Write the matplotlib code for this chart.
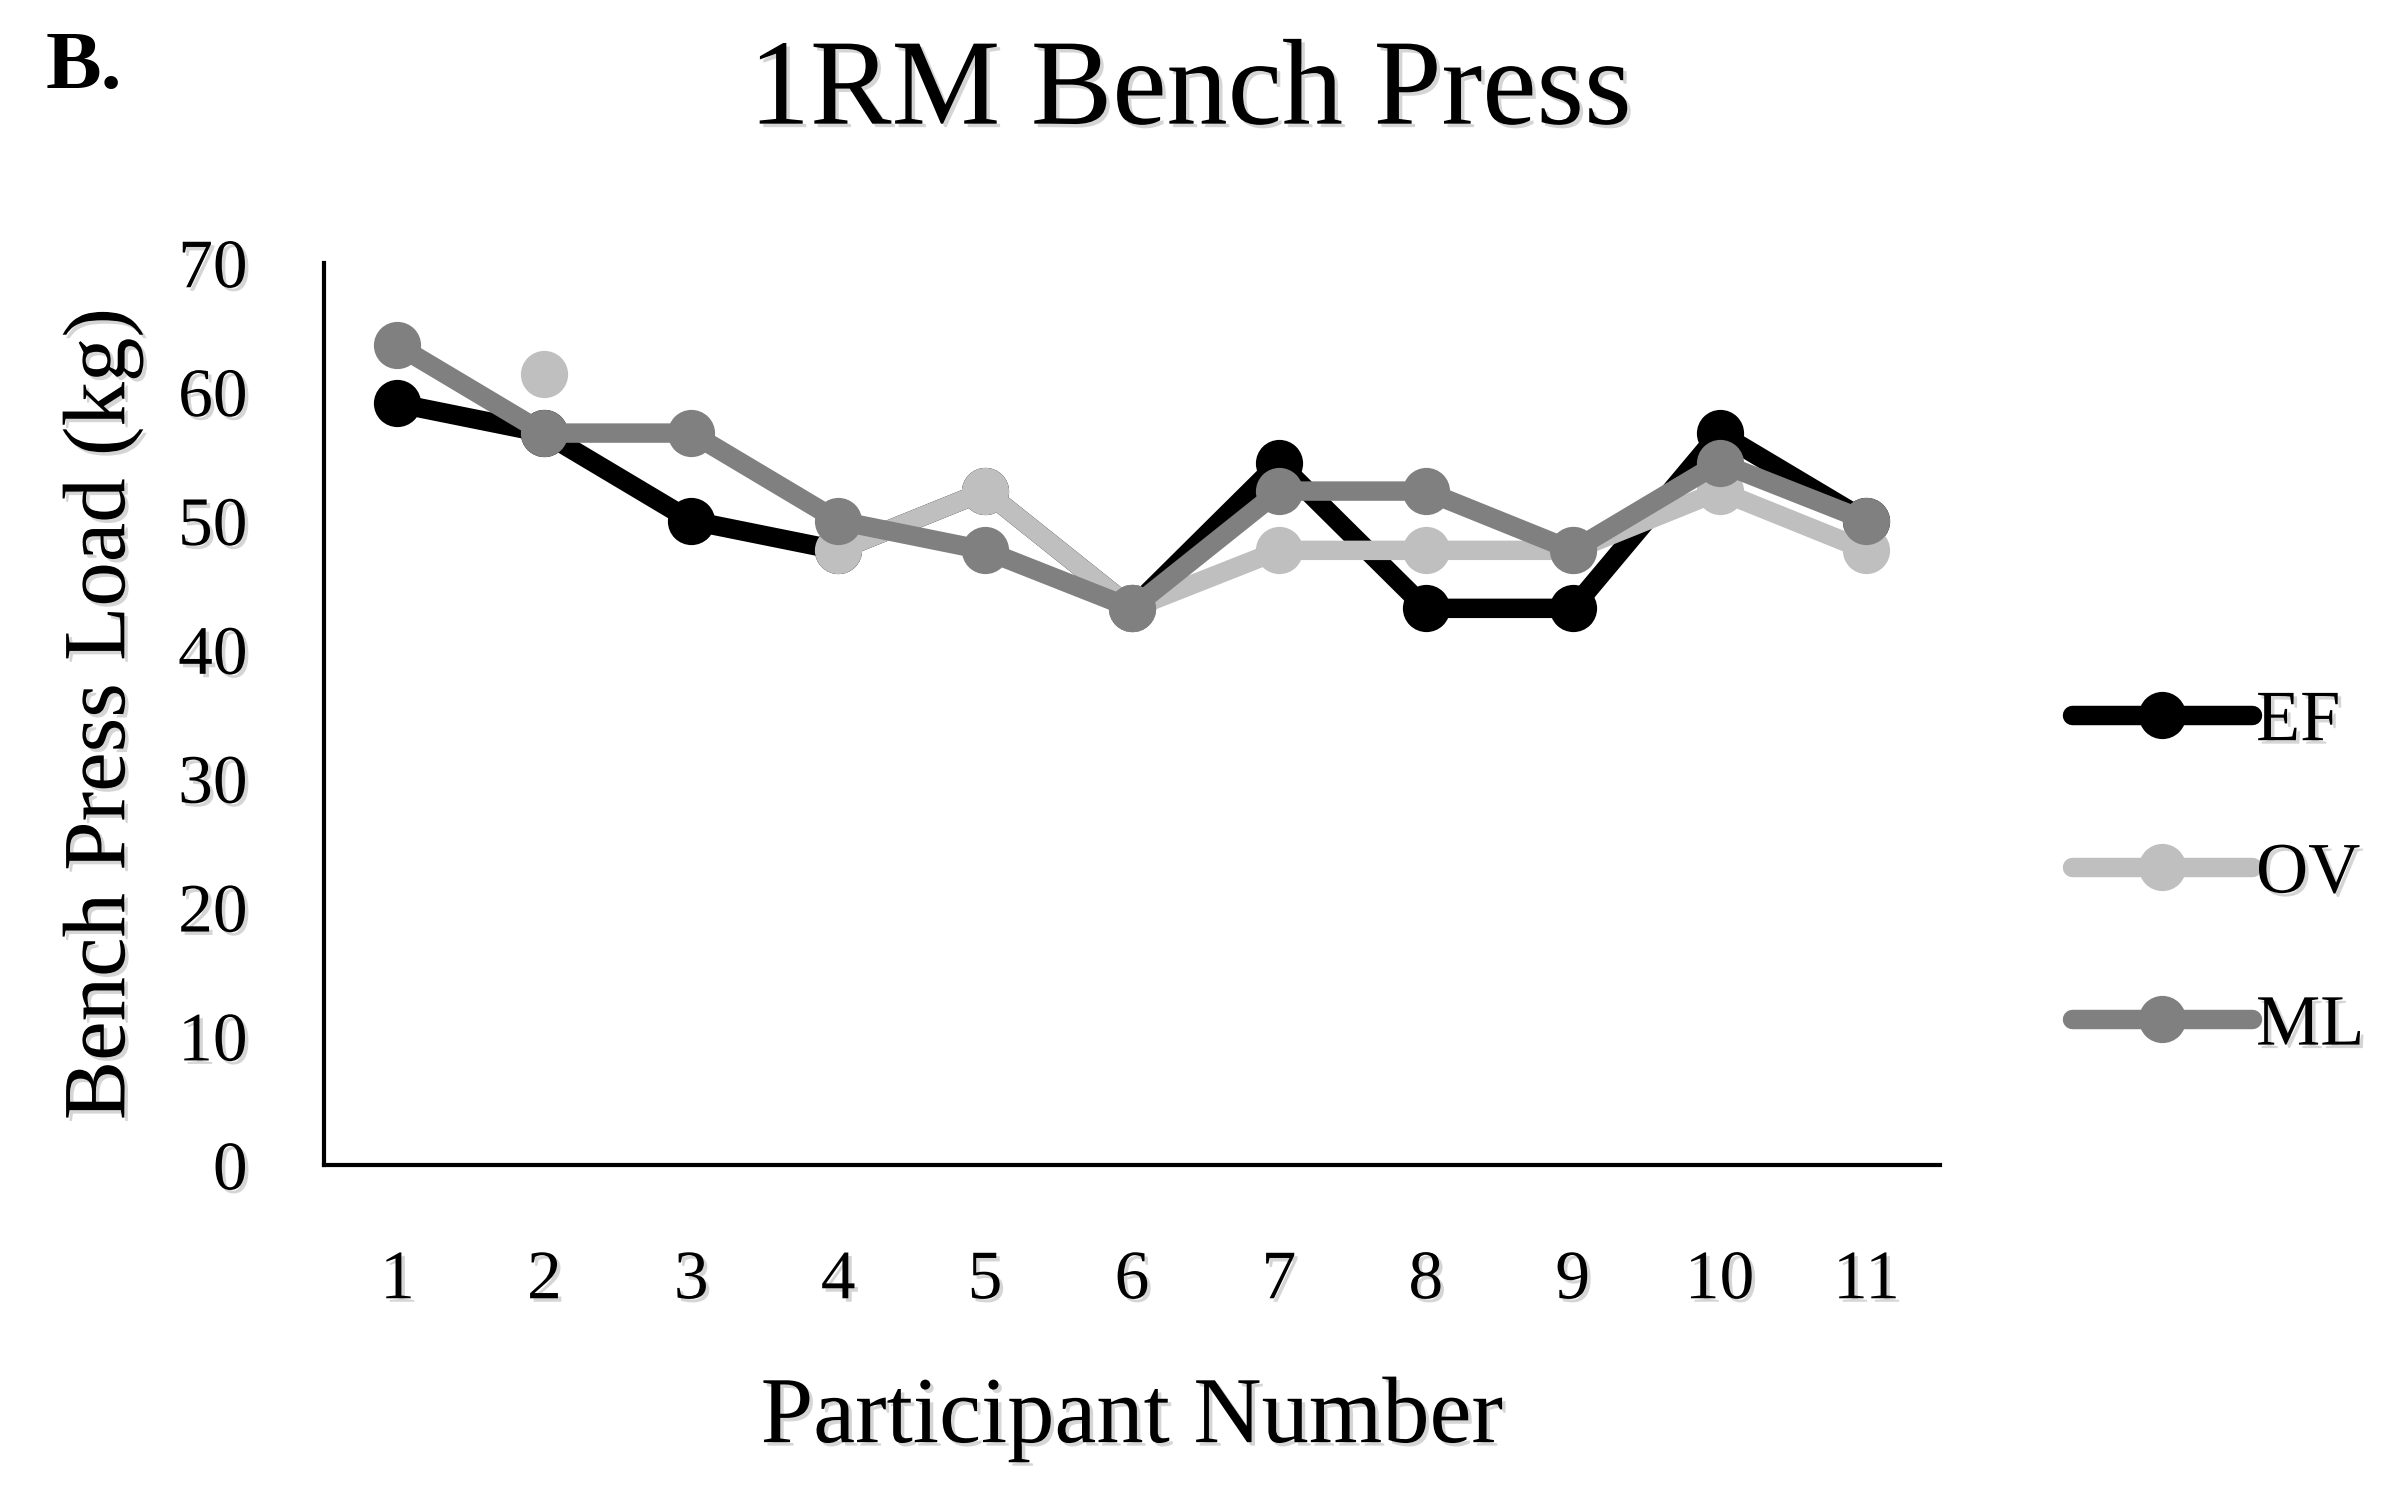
import numpy as np
import matplotlib
matplotlib.use("Agg")
import matplotlib.pyplot as plt
from matplotlib.lines import Line2D
import matplotlib.patheffects as pe

participants = [1, 2, 3, 4, 5, 6, 7, 8, 9, 10, 11]
ef = [59.1, 56.8, 50.0, 47.7, 52.3, 43.2, 54.5, 43.2, 43.2, 56.8, 50.0]
ov = [np.nan, 61.4, np.nan, 47.7, 52.3, 43.2, 47.7, 47.7, 47.7, 52.3, 47.7]
ml = [63.6, 56.8, 56.8, 50.0, 47.7, 43.2, 52.3, 52.3, 47.7, 54.5, 50.0]
series_names = ["EF", "OV", "ML"]
colors = ["#000000", "#BFBFBF", "#808080"]
yticks = [0, 10, 20, 30, 40, 50, 60, 70]

plt.rcParams['font.family'] = ['Liberation Serif', 'DejaVu Serif']

shadow = [pe.withSimplePatchShadow(offset=(2.5, -2.5), shadow_rgbFace='#888888', alpha=0.35)]

fig = plt.figure(figsize=(23.95, 14.90), dpi=100)
ax = fig.add_axes([0.1353, 0.2181, 0.810 - 0.1353, 0.8235 - 0.2181])

for vals, c in zip([ef, ov, ml], colors):
    ax.plot(participants, vals, color=c, lw=14, marker='o', markersize=34,
            markeredgewidth=0, markerfacecolor=c, solid_joinstyle='miter')

ax.set_xlim(0.5, 11.5)
ax.set_ylim(0, 70)
ax.set_xticks(participants)
ax.set_xticklabels([str(p) for p in participants])
ax.set_yticks(yticks)
ax.set_yticklabels([str(t) for t in yticks])
ax.tick_params(axis='both', length=0, labelsize=50)
ax.tick_params(axis='x', pad=61)
ax.tick_params(axis='y', pad=55)
for lab in ax.get_xticklabels() + ax.get_yticklabels():
    lab.set_path_effects(shadow)

for s in ['top', 'right']:
    ax.spines[s].set_visible(False)
for s in ['left', 'bottom']:
    ax.spines[s].set_linewidth(3)
    ax.spines[s].set_color('black')

ax.set_xlabel("Participant Number", fontsize=68, labelpad=46, path_effects=shadow)
ax.set_ylabel("Bench Press Load (kg)", fontsize=64, labelpad=25, path_effects=shadow)

fig.text(0.497, 0.917, "1RM Bench Press", fontsize=88, ha='center', va='baseline',
         path_effects=shadow)
fig.text(0.019, 0.941, "B.", fontsize=60, fontweight='bold', ha='left', va='baseline')

handles = [Line2D([0], [0], color=c, lw=14, marker='o', markersize=34,
                  markeredgewidth=0, solid_capstyle='round') for c in colors]
leg = fig.legend(handles, series_names, loc='center left',
                 bbox_to_anchor=(0.850, 0.413), frameon=False, fontsize=52,
                 handlelength=2.5, handletextpad=0.05, labelspacing=1.2,
                 borderpad=0)
for t in leg.get_texts():
    t.set_path_effects(shadow)

fig.savefig("out.png", dpi=100)
